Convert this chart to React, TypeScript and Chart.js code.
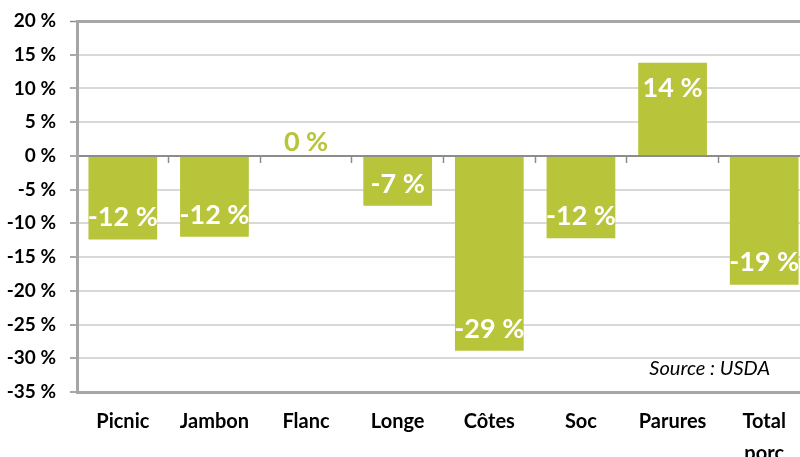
import React, { useEffect, useRef } from 'react';
import { Chart, registerables } from 'chart.js';

Chart.register(...registerables);

const categories: (string | string[])[] = ['Picnic', 'Jambon', 'Flanc', 'Longe', 'Côtes', 'Soc', 'Parures', ['Total', 'porc']];
const values = [-12.4, -12.0, 0, -7.4, -28.9, -12.2, 13.8, -19.1];
const valueLabels = ['-12 %', '-12 %', '0 %', '-7 %', '-29 %', '-12 %', '14 %', '-19 %'];
const yMin = -35;
const yMax = 20;
const yStep = 5;
const sourceText = 'Source : USDA';

const BAR = '#b8c43a';
const GRID = '#d9d9d9';
const AXIS = '#a6a6a6';
const ZERO = '#8c8c8c';
const FONT = 'Lato';

const W = 812;
const H = 470;

const labelPlugin = {
  id: 'valueLabels',
  afterDatasetsDraw(chart: any) {
    const ctx = chart.ctx as CanvasRenderingContext2D;
    const meta = chart.getDatasetMeta(0);
    const yScale = chart.scales.y;
    const zero = yScale.getPixelForValue(0);
    ctx.save();
    ctx.font = `bold 27px ${FONT}`;
    ctx.textAlign = 'center';
    ctx.textBaseline = 'middle';
    meta.data.forEach((bar: any, i: number) => {
      const v = values[i];
      let y: number;
      let color: string;
      if (Math.abs(v) < 1) {
        y = zero - 14;
        color = BAR;
      } else if (v < 0) {
        y = bar.y - 22;
        color = '#ffffff';
      } else {
        y = bar.y + 25;
        color = '#ffffff';
      }
      ctx.fillStyle = color;
      ctx.fillText(valueLabels[i], bar.x, y);
    });
    const area = chart.chartArea;
    ctx.font = `italic 20px ${FONT}`;
    ctx.textAlign = 'right';
    ctx.fillStyle = '#000000';
    ctx.fillText(sourceText, area.right - 40, area.bottom - 23);
    ctx.restore();
  },
};

export default function App() {
  const ref = useRef<HTMLCanvasElement | null>(null);

  useEffect(() => {
    if (!ref.current) return;
    const chart = new Chart(ref.current, {
      type: 'bar',
      data: {
        labels: categories as any,
        datasets: [
          {
            data: values,
            backgroundColor: BAR,
            borderWidth: 0,
            categoryPercentage: 1,
            barPercentage: 0.75,
          },
        ],
      },
      options: {
        responsive: false,
        animation: false,
        layout: { padding: { top: 21, right: 2, left: 0, bottom: 0 } },
        plugins: {
          legend: { display: false },
          tooltip: { enabled: false },
        },
        scales: {
          x: {
            type: 'category',
            position: 'bottom',
            offset: true,
            grid: { display: true, drawOnChartArea: false, drawTicks: false, offset: true },
            border: { display: true, color: AXIS, width: 3 },
            ticks: {
              color: '#000',
              padding: 14,
              maxRotation: 0,
              autoSkip: false,
              font: { family: FONT, size: 20, weight: 'bold', lineHeight: 1.6 },
            },
            afterFit: (s: any) => {
              s.height = H - 392;
              s.paddingLeft = 0;
              s.paddingRight = 0;
            },
          },
          x2: {
            type: 'category',
            position: { y: 0 } as any,
            offset: true,
            grid: {
              display: true,
              drawOnChartArea: false,
              drawTicks: true,
              tickLength: 6,
              tickColor: ZERO,
              tickWidth: 1.5,
              offset: true,
            },
            border: { display: true, color: ZERO, width: 2 },
            ticks: { display: false },
          },
          y: {
            min: yMin,
            max: yMax,
            position: 'left',
            ticks: {
              stepSize: yStep,
              color: '#000',
              padding: 14,
              font: { family: FONT, size: 19, weight: 'bold' },
              callback: (v: any) => `${v} %`,
            },
            grid: {
              color: (c: any) => {
                const v = c.tick?.value;
                if (v === yMax) return AXIS;
                if (v === 0 || v === yMin) return 'rgba(0,0,0,0)';
                return GRID;
              },
              lineWidth: (c: any) => (c.tick?.value === yMax ? 3 : 2),
              drawTicks: true,
              tickLength: 7,
              tickColor: ZERO,
              tickWidth: 1.5,
            },
            border: { display: true, color: AXIS, width: 3 },
            afterFit: (s: any) => {
              s.width = 77;
              s.paddingTop = 0;
              s.paddingBottom = 0;
            },
          },
        },
      },
      plugins: [labelPlugin],
    });
    return () => chart.destroy();
  }, []);

  return (
    <div style={{ position: 'fixed', left: 0, top: 0, width: 800, height: 457, overflow: 'hidden', background: '#fff' }}>
      <canvas ref={ref} width={W} height={H} style={{ display: 'block', width: W, height: H }} />
    </div>
  );
}
